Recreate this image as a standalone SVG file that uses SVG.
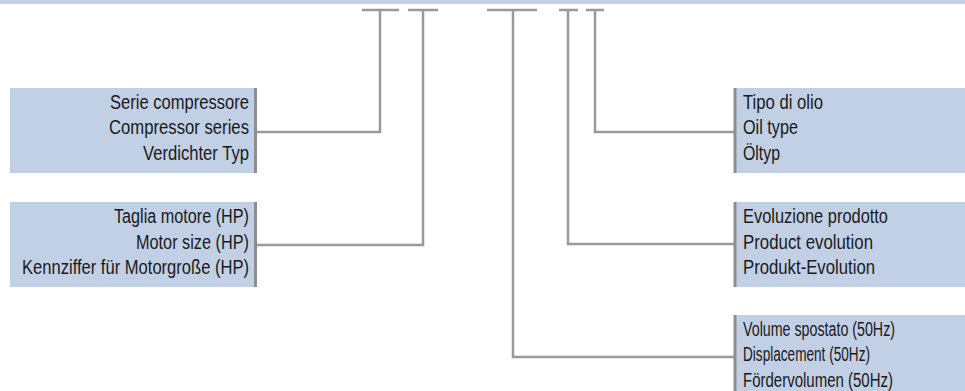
<svg xmlns="http://www.w3.org/2000/svg" width="965" height="391" viewBox="0 0 965 391">
  <style>
    .box { fill: #c2d0e6; }
    .edge { stroke: #8e8e8e; stroke-width: 3; fill: none; }
    .conn { stroke: #9a9a9a; stroke-width: 2.5; fill: none; }
    .t { font-family: "Liberation Sans", Arial, sans-serif; font-size: 20px; fill: #1a1a1a; }
    .r { text-anchor: end; }
  </style>
  <rect id="top-band" x="0" y="0" width="965" height="4" class="box"/>

  <g id="connectors">
    <path class="conn" d="M362,10 H399 M380,10 V132 H256"/>
    <path class="conn" d="M408,10 H438 M423,10 V245 H256"/>
    <path class="conn" d="M487,10 H537 M513,10 V357 H735"/>
    <path class="conn" d="M559,10 H578 M568,10 V244 H735"/>
    <path class="conn" d="M586,10 H604 M595,10 V132 H735"/>
  </g>

  <g id="node-serie">
    <rect class="box" x="10" y="88" width="245" height="85"/>
    <line class="edge" x1="255.5" y1="88" x2="255.5" y2="173"/>
    <text class="t r" x="249" y="108.5" textLength="139" lengthAdjust="spacingAndGlyphs">Serie compressore</text>
    <text class="t r" x="249" y="134" textLength="140" lengthAdjust="spacingAndGlyphs">Compressor series</text>
    <text class="t r" x="249" y="159.5" textLength="106" lengthAdjust="spacingAndGlyphs">Verdichter Typ</text>
  </g>

  <g id="node-motor">
    <rect class="box" x="10" y="202" width="245" height="85"/>
    <line class="edge" x1="255.5" y1="202" x2="255.5" y2="287"/>
    <text class="t r" x="249" y="223" textLength="135" lengthAdjust="spacingAndGlyphs">Taglia motore (HP)</text>
    <text class="t r" x="249" y="248.5" textLength="113" lengthAdjust="spacingAndGlyphs">Motor size (HP)</text>
    <text class="t r" x="249" y="274" textLength="227" lengthAdjust="spacingAndGlyphs">Kennziffer für Motorgroße (HP)</text>
  </g>

  <g id="node-oil">
    <rect class="box" x="735" y="88" width="230" height="85"/>
    <line class="edge" x1="735" y1="88" x2="735" y2="173"/>
    <text class="t" x="743" y="108.5" textLength="80" lengthAdjust="spacingAndGlyphs">Tipo di olio</text>
    <text class="t" x="743" y="134" textLength="55" lengthAdjust="spacingAndGlyphs">Oil type</text>
    <text class="t" x="743" y="159.5" textLength="37" lengthAdjust="spacingAndGlyphs">Öltyp</text>
  </g>

  <g id="node-evolution">
    <rect class="box" x="735" y="202" width="230" height="85"/>
    <line class="edge" x1="735" y1="202" x2="735" y2="287"/>
    <text class="t" x="743" y="223" textLength="145" lengthAdjust="spacingAndGlyphs">Evoluzione prodotto</text>
    <text class="t" x="743" y="248.5" textLength="130" lengthAdjust="spacingAndGlyphs">Product evolution</text>
    <text class="t" x="743" y="274" textLength="132" lengthAdjust="spacingAndGlyphs">Produkt-Evolution</text>
  </g>

  <g id="node-displacement">
    <rect class="box" x="735" y="315" width="230" height="85"/>
    <line class="edge" x1="735" y1="315" x2="735" y2="400"/>
    <text class="t" x="743" y="335.5" textLength="152" lengthAdjust="spacingAndGlyphs">Volume spostato (50Hz)</text>
    <text class="t" x="743" y="361" textLength="127" lengthAdjust="spacingAndGlyphs">Displacement (50Hz)</text>
    <text class="t" x="743" y="386.5" textLength="150" lengthAdjust="spacingAndGlyphs">Fördervolumen (50Hz)</text>
  </g>
</svg>
